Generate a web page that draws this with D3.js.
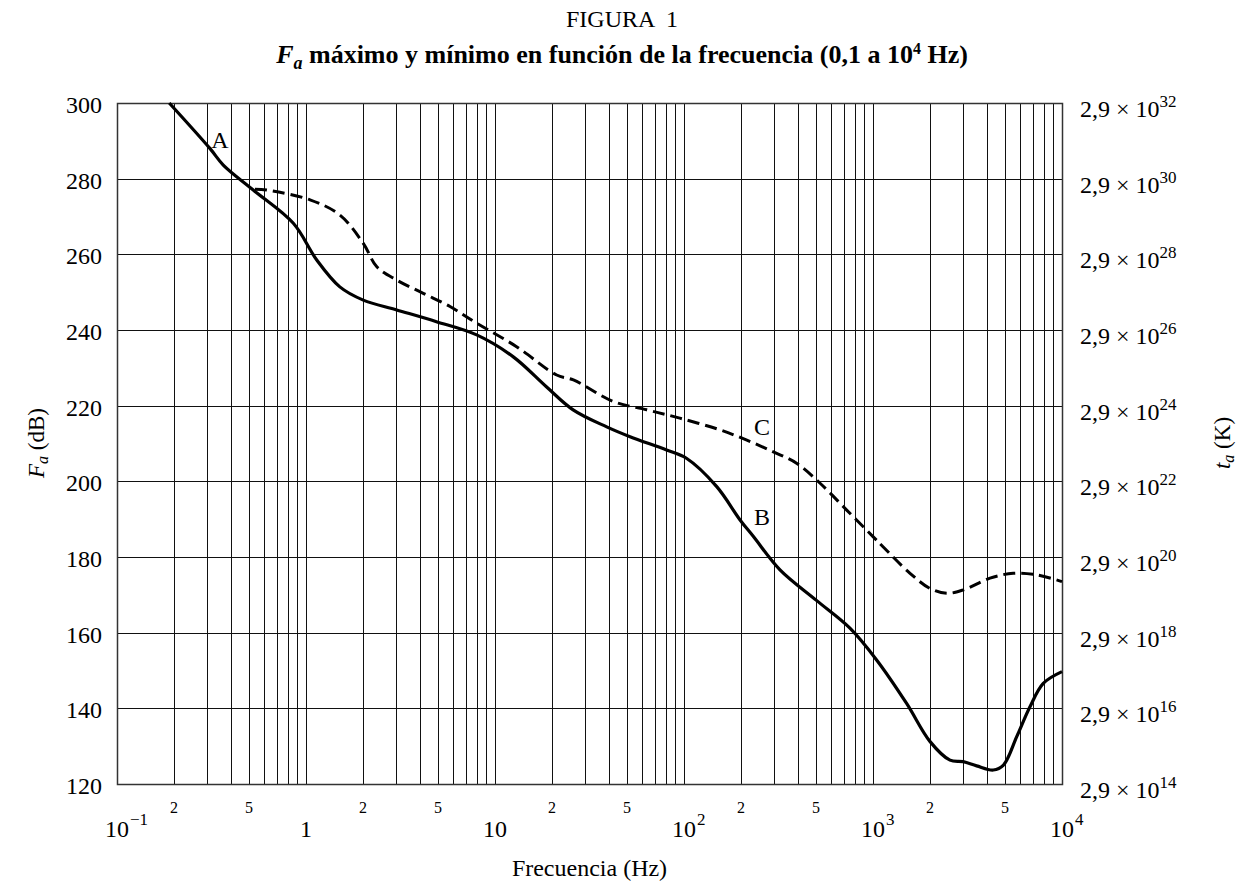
<!DOCTYPE html>
<html><head><meta charset="utf-8">
<script src="https://cdn.jsdelivr.net/npm/d3@7"></script>
<style>
body{margin:0;background:#fff;}
svg text{font-family:"Liberation Serif","Times New Roman",serif;fill:#000;}
</style></head>
<body><svg id="c" width="1244" height="881"></svg>
<script>
// Curve A/B (solid): frequency (Hz), Fa (dB)
const freqB = [0.189,0.31,0.365,0.526,0.857,1.14,1.51,2.01,3.02,4.9,8.0,12.5,18.7,25.9,39,51.8,80.9,103,149,198,233,322,500,755,1045,1506,2005,2555,3000,3535,4330,4900,5760,6770,7960,10000];
const dbB   = [300,288,283.6,277,268.2,258.5,251.4,247.9,245.3,242.2,238.7,232.9,225,218.9,214.4,211.8,208.3,206.1,198.6,189.8,185.4,176.6,168.6,161.2,152.8,141.3,131.2,126.3,125.9,124.8,123.7,125,132.5,140.4,146.6,149.7];
// Curve C (dashed)
const freqC = [0.537,0.62,1.05,1.51,2.01,2.37,3.02,4.17,5.78,8.0,13,21.2,26,42.3,63.5,95,155,215,297,394,525,726,1000,1130,1570,2000,2455,3000,4160,5520,7340,10000];
const dbC   = [277.2,277,274.4,270.4,262.9,256.7,253.2,249.7,246.2,241.8,235.6,228.1,226.8,221.1,218.9,216.7,213.6,210.9,207.8,204.8,199.5,192.4,185.4,182.7,175.7,171.7,170.4,171.3,174.4,175.7,175.3,173.5];
// Axis ticks
const yTicks = [120,140,160,180,200,220,240,260,280,300];
const kExponents = [14,16,18,20,22,24,26,28,30,32];
const decades = [0.1,1,10,100,1000,10000];
const decadeLabels = [["10","−1"],["1",""],["10",""],["10","2"],["10","3"],["10","4"]];
const minorLabels = ["2","5"];

const svg = d3.select("#c");
const L=117, R=1062, T=103, B=784;
const x = d3.scaleLog().domain([0.1,10000]).range([L,R]);
const y = d3.scaleLinear().domain([120,300]).range([B,T]);
const yK = d3.scaleLog().domain([2.9e14,2.9e32]).range([B,T]);

// grid
const vgrid = [];
decades.slice(0,-1).forEach(d=>{for(let m=1;m<10;m++) vgrid.push(d*m);});
vgrid.push(10000);
svg.append("g").selectAll("line").data(vgrid).join("line")
  .attr("x1",d=>Math.round(x(d))+0.5).attr("x2",d=>Math.round(x(d))+0.5)
  .attr("y1",T).attr("y2",B).attr("stroke","#111").attr("stroke-width",1);
svg.append("g").selectAll("line").data(yTicks).join("line")
  .attr("x1",L).attr("x2",R).attr("y1",d=>Math.round(y(d))+0.5).attr("y2",d=>Math.round(y(d))+0.5)
  .attr("stroke","#111").attr("stroke-width",1);
svg.append("rect").attr("x",L+0.5).attr("y",T+0.5).attr("width",R-L).attr("height",B-T)
  .attr("fill","none").attr("stroke","#333").attr("stroke-width",1.5);

// left y labels
svg.append("g").selectAll("text").data(yTicks).join("text")
  .attr("x",L-15).attr("y",d=>y(d)+10).attr("text-anchor","end").attr("font-size",24).text(d=>d);

// right labels
const rk = svg.append("g").selectAll("text").data(kExponents).join("text")
  .attr("x",R+18).attr("y",d=>yK(2.9*Math.pow(10,d))+14).attr("font-size",24);
rk.append("tspan").text("2,9 × 10");
rk.append("tspan").attr("dy",-10).attr("font-size",17).text(d=>d);

// x labels
decades.forEach((d,i)=>{
  const t = svg.append("text").attr("x",x(d)).attr("y",837).attr("text-anchor","middle").attr("font-size",24)
    .text(decadeLabels[i][0]);
  if(decadeLabels[i][1]){
    const w = t.node().getComputedTextLength();
    svg.append("text").attr("x",x(d)+w/2+1).attr("y",825).attr("font-size",17).text(decadeLabels[i][1]);
  }
});
decades.slice(0,-1).forEach(d=>{
  minorLabels.forEach(m=>{
    svg.append("text").attr("x",x(d*(+m))).attr("y",813).attr("text-anchor","middle").attr("font-size",16).text(m);
  });
});

// axis titles
svg.append("text").attr("x",(L+R)/2).attr("y",876).attr("text-anchor","middle").attr("font-size",24).text("Frecuencia (Hz)");
const yl = svg.append("text").attr("transform","translate(44,443) rotate(-90)").attr("text-anchor","middle").attr("font-size",23);
yl.append("tspan").attr("font-style","italic").text("F");
yl.append("tspan").attr("font-style","italic").attr("font-size",16).attr("dy",4).text("a");
yl.append("tspan").attr("dy",-4).text(" (dB)");
const yr = svg.append("text").attr("transform","translate(1230,443) rotate(-90)").attr("text-anchor","middle").attr("font-size",23);
yr.append("tspan").attr("font-style","italic").text("t");
yr.append("tspan").attr("font-style","italic").attr("font-size",16).attr("dy",4).text("a");
yr.append("tspan").attr("dy",-4).text(" (K)");

// titles
svg.append("text").attr("x",622).attr("y",27).attr("text-anchor","middle").attr("font-size",24)
  .style("white-space","pre").text("FIGURA  1");
const st = svg.append("text").attr("x",622).attr("y",63).attr("text-anchor","middle").attr("font-size",26).attr("font-weight","bold");
st.append("tspan").attr("font-style","italic").text("F");
st.append("tspan").attr("font-style","italic").attr("font-size",18).attr("dy",6).text("a");
st.append("tspan").attr("dy",-6).text(" máximo y mínimo en función de la frecuencia (0,1 a 10");
st.append("tspan").attr("dy",-9).attr("font-size",16).text("4");
st.append("tspan").attr("dy",9).text(" Hz)");

// curves
const line = d3.line().x(d=>x(d[0])).y(d=>y(d[1])).curve(d3.curveCatmullRom.alpha(0.5));
svg.append("path").attr("d",line(d3.zip(freqB,dbB))).attr("fill","none").attr("stroke","#000").attr("stroke-width",3.2);
svg.append("path").attr("d",line(d3.zip(freqC,dbC))).attr("fill","none").attr("stroke","#000").attr("stroke-width",3).attr("stroke-dasharray","12,6");

// curve labels
svg.append("text").attr("x",220).attr("y",148).attr("text-anchor","middle").attr("font-size",24).text("A");
svg.append("text").attr("x",762).attr("y",435).attr("text-anchor","middle").attr("font-size",24).text("C");
svg.append("text").attr("x",762).attr("y",525).attr("text-anchor","middle").attr("font-size",24).text("B");
</script></body></html>
